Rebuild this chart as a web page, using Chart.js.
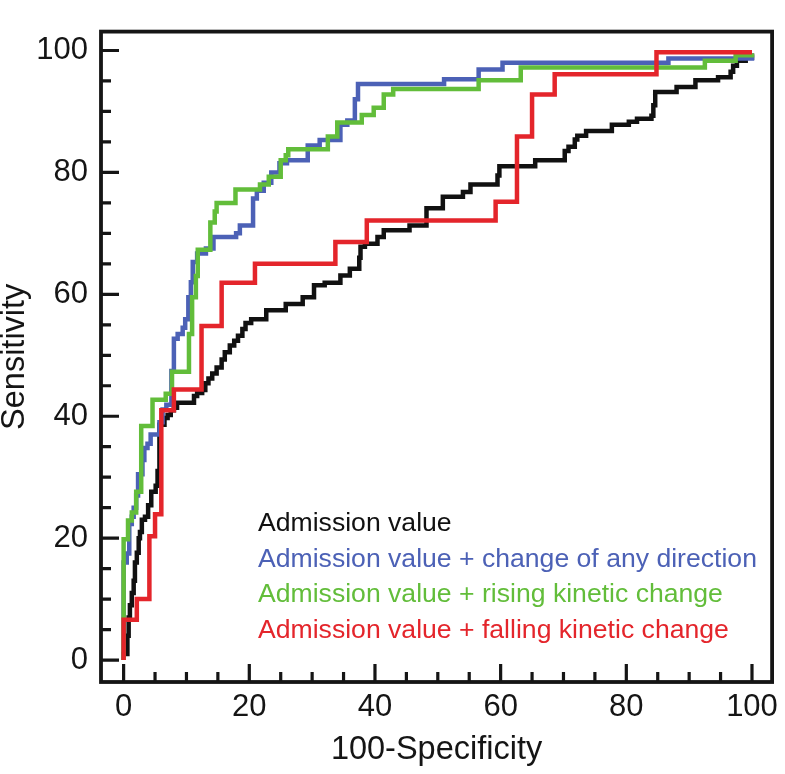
<!DOCTYPE html>
<html>
<head>
<meta charset="utf-8">
<script src="https://cdn.jsdelivr.net/npm/chart.js@4.4.1/dist/chart.umd.min.js"></script>
<style>
html,body{margin:0;padding:0;background:#ffffff;}
#wrap{position:relative;width:785px;height:774px;}
</style>
</head>
<body>
<div id="wrap"><canvas id="c" width="785" height="774"></canvas></div>
<script>
// ---- Data (100-Specificity, Sensitivity) ----
const seriesLabels = [
  'Admission value',
  'Admission value + change of any direction',
  'Admission value + rising kinetic change',
  'Admission value + falling kinetic change'
];
const seriesColors = ['#111111', '#4c61b6', '#62bd3a', '#e4252b'];

const admissionX = [0,0,0.6,0.8,1.0,1.3,1.6,1.8,2.1,2.4,2.6,2.9,3.4,3.9,4.4,5.1,5.4,5.7,6.5,7.0,7.5,8.0,8.5,11.2,11.7,12.5,13.0,13.5,14.1,14.8,15.6,16.1,16.9,17.6,18.2,18.9,19.4,20.3,22.7,25.8,28.5,30.3,32.0,34.5,36.0,37.5,37.7,38.4,40.4,41.4,45.5,48.2,50.8,54.0,55.2,59.5,59.8,65.5,70.2,70.8,71.8,72.2,73.6,77.7,80.4,81.7,84.0,84.3,84.6,88.0,91.0,94.6,96.6,97.0,97.6,99.0,100];
const admissionY = [0,1,4,7,9,11,13,16,17.6,20,21,23,23.5,25.4,27.6,28.6,31,38.6,39.7,40.2,41,41.4,42.2,43.3,43.8,44.3,45.4,46.2,47,48,49.3,50.5,51.6,52.4,53.2,54.3,55.3,55.9,57.4,58.4,59.5,61.5,61.9,63.1,64.2,66,67.8,68.3,69.4,70.5,71.3,74.1,76,76.8,78,79.5,81,82,83.5,84.2,85.4,86,86.8,87.8,88.3,88.8,89.3,91,93.2,94,95.1,95.6,96.5,97.5,98.3,98.8,99.5];

const anyDirX = [0,0,0.5,0.9,1.3,1.6,2.0,2.3,3.0,3.3,3.8,4.3,5.7,6.2,6.8,7.6,8.0,8.6,9.4,9.8,10.3,10.7,11.0,11.7,13.1,14.3,17.9,18.5,20.6,21.2,22.3,23.5,24.8,26.0,29.3,31.2,34.5,35.6,36.8,37.3,51.0,56.5,60.3,86.7,100];
const anyDirY = [0,16,17.5,22.3,23.5,25,27,30.5,32.8,34.8,35.5,37,39,41.1,41.9,47.4,52.7,53.5,54.5,55.9,59.5,62,65.3,66.7,67.5,69.4,70,71.3,75.7,77,78.3,80,81.5,82,84.4,85.3,87.8,88.5,92,94.5,95.3,96.9,98,98.7,99.2];

const risingX = [0,0,0.7,1.3,2.0,2.8,4.6,6.7,7.7,10.4,10.9,11.5,11.8,13.8,14.5,14.8,17.8,21.7,23.1,25.0,25.8,26.2,32.5,34.0,37.9,39.8,41.4,42.9,56.5,63.2,92.5,97.4,100];
const risingY = [0,19.8,22.9,24.2,27.6,38.4,42.7,43.7,47.3,53.5,59.5,63,67.3,71.8,73.6,75,77.2,78,79.3,82,82.8,83.8,85.9,88.2,89.4,90.6,92.8,93.7,95.1,97.2,98.3,99.2,99.5];

const fallingX = [0,0,2.1,4.1,5.0,6.0,8.0,12.4,15.6,20.9,33.7,38.7,59.2,62.6,65.0,68.6,84.8,100];
const fallingY = [0,6.6,10,20.3,23.9,41,44.4,54.8,61.9,65,68.6,72.1,75.2,85.9,92.8,96.1,99.7,99.7];

const xTickValues = [0,20,40,60,80,100];
const xTickLabels = ['0','20','40','60','80','100'];
const yTickValues = [0,20,40,60,80,100];
const yTickLabels = ['0','20','40','60','80','100'];
const minorTickValues = [5,10,15,25,30,35,45,50,55,65,70,75,85,90,95];

const xTitle = '100-Specificity';
const yTitle = 'Sensitivity';

// ---- build datasets ----
function pts(xs, ys){ return xs.map((x,i)=>({x:x, y:ys[i]})); }
const seriesPoints = [pts(admissionX, admissionY), pts(anyDirX, anyDirY), pts(risingX, risingY), pts(fallingX, fallingY)];
const drawOrder = [3, 2, 1, 0]; // red on top

const FONT = "'Liberation Sans', Arial, Helvetica, sans-serif";

const frameTicksPlugin = {
  id: 'frameTicks',
  afterDatasetsDraw(chart){
    const {ctx, chartArea:a, scales:{x, y}} = chart;
    ctx.save();
    ctx.strokeStyle = '#151515';
    ctx.lineWidth = 3.2;
    ctx.lineCap = 'butt';
    ctx.beginPath();
    const major = 18, minor = 10;
    xTickValues.forEach(v=>{ const p = x.getPixelForValue(v); ctx.moveTo(p, a.bottom); ctx.lineTo(p, a.bottom - major); });
    minorTickValues.forEach(v=>{ const p = x.getPixelForValue(v); ctx.moveTo(p, a.bottom); ctx.lineTo(p, a.bottom - minor); });
    yTickValues.forEach(v=>{ const p = y.getPixelForValue(v); ctx.moveTo(a.left, p); ctx.lineTo(a.left + major, p); });
    minorTickValues.forEach(v=>{ const p = y.getPixelForValue(v); ctx.moveTo(a.left, p); ctx.lineTo(a.left + minor, p); });
    ctx.stroke();
    ctx.lineWidth = 3.8;
    ctx.strokeRect(a.left, a.top, a.right - a.left, a.bottom - a.top);
    ctx.restore();
  }
};

const innerLegendPlugin = {
  id: 'innerLegend',
  afterDatasetsDraw(chart, args, opts){
    const ctx = chart.ctx;
    ctx.save();
    ctx.font = opts.fontSize + 'px ' + FONT;
    ctx.textAlign = 'left';
    ctx.textBaseline = 'alphabetic';
    chart.data.datasets.forEach((ds, i)=>{
      ctx.fillStyle = ds.borderColor;
      ctx.fillText(ds.label, opts.x, opts.y + i * opts.lineGap);
    });
    ctx.restore();
  }
};

new Chart(document.getElementById('c'), {
  type: 'line',
  data: {
    datasets: seriesLabels.map((lab, i)=>({
      label: lab,
      data: seriesPoints[i],
      borderColor: seriesColors[i],
      backgroundColor: seriesColors[i],
      borderWidth: 4.5,
      pointRadius: 0,
      stepped: 'before',
      fill: false,
      tension: 0,
      order: drawOrder[i],
      borderCapStyle: 'butt',
      borderJoinStyle: 'miter'
    }))
  },
  options: {
    responsive: false,
    animation: false,
    devicePixelRatio: 1,
    parsing: true,
    layout: { padding: { top: 3, right: 5, left: 0, bottom: 0 } },
    plugins: {
      legend: { display: false },
      tooltip: { enabled: false },
      innerLegend: { x: 258, y: 531, lineGap: 35.7, fontSize: 26.6 }
    },
    scales: {
      x: {
        type: 'linear', position: 'bottom', min: -3.6, max: 103.2,
        afterBuildTicks: s => { s.ticks = xTickValues.map(v=>({value:v})); },
        afterFit: s => { s.height = 92; },
        ticks: { callback: (v, i) => xTickLabels[i], font: { family: FONT, size: 31 }, color: '#151515', padding: 7, maxRotation: 0, autoSkip: false },
        grid: { display: false, drawTicks: false },
        border: { display: false },
        title: { display: true, text: xTitle, color: '#151515', font: { family: FONT, size: 32.5 }, padding: { top: 0, bottom: 4 } }
      },
      y: {
        type: 'linear', position: 'left', min: -3.6, max: 103.1,
        afterBuildTicks: s => { s.ticks = yTickValues.map(v=>({value:v})); },
        afterFit: s => { s.width = 101; },
        ticks: { callback: (v, i) => yTickLabels[i], font: { family: FONT, size: 31 }, color: '#151515', padding: 13, autoSkip: false },
        grid: { display: false, drawTicks: false },
        border: { display: false },
        title: { display: true, text: yTitle, color: '#151515', font: { family: FONT, size: 32.5, lineHeight: 0.9 }, padding: { top: 0, bottom: 0 } }
      }
    }
  },
  plugins: [frameTicksPlugin, innerLegendPlugin]
});
</script>
</body>
</html>
